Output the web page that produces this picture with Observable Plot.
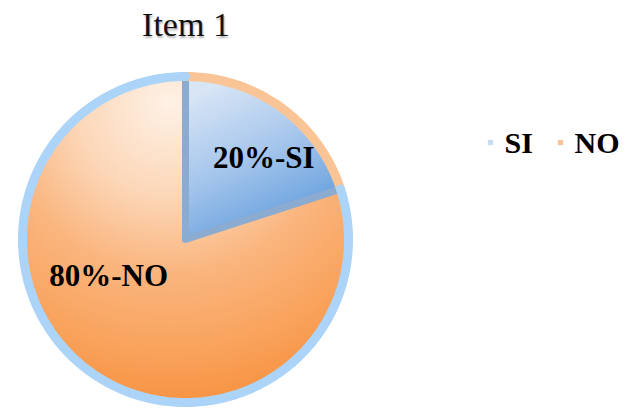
<!DOCTYPE html>
<html><head><meta charset="utf-8">
<script src="https://cdn.jsdelivr.net/npm/d3@7"></script>
<script src="https://cdn.jsdelivr.net/npm/@observablehq/plot@0.6"></script>
<style>
body{margin:0;background:#fff;}
#title{width:372px;height:50px;line-height:50px;text-align:center;font-family:"Liberation Serif","Times New Roman",serif;font-size:34px;color:#111;text-shadow:1px 2px 2px rgba(0,0,0,0.3);}
#chart svg{display:block;}
</style></head><body>
<div id="title">Item 1</div>
<div id="chart"></div>
<script>
const categories = ["SI", "NO"];
const values = [20, 80];
const labels = ["20%-SI", "80%-NO"];
const sliceFills = ["url(#gSI)", "url(#gNO)"];
const rimColors = ["#f9c596", "#acd4f8"];
const legendColors = ["#c9dcf1", "#f8c39a"];

const W = 625, H = 360, cx = 185, cy = 189, R = 163;
const arcs = d3.pie().sort(null).value(d => d)(values);
const slices = [], rims = [], labelRows = [];
arcs.forEach((a, i) => {
  const n = Math.max(2, Math.ceil((a.endAngle - a.startAngle) / (Math.PI / 180)));
  slices.push({k: categories[i], x: 0, y: 0});
  for (let j = 0; j <= n; j++) {
    const t = a.startAngle + (a.endAngle - a.startAngle) * j / n;
    const p = {k: categories[i], x: Math.sin(t), y: Math.cos(t)};
    slices.push(p); rims.push({...p});
  }
  slices.push({k: categories[i], x: 0, y: 0});
  const m = (a.startAngle + a.endAngle) / 2;
  const r = i === 0 ? 0.65 : 0.5;
  labelRows.push({k: categories[i], label: labels[i], x: r * Math.sin(m), y: r * Math.cos(m)});
});
const labelOffsets = {SI: [16, 4], NO: [-29, -29]};
const legendRows = categories.map((c, i) => ({k: c, x: (490 + i * 70 - cx) / R, y: (cy - 92) / R, color: legendColors[i]}));

const marks = [];
categories.slice().reverse().forEach(c => {
  const i = categories.indexOf(c);
  marks.push(Plot.line(slices.filter(d => d.k === c), {
    x: "x", y: "y", fill: sliceFills[i],
    stroke: c === "SI" ? "#8cabd0" : "none", strokeWidth: 7, strokeLinejoin: "round", curve: "linear"
  }));
});
categories.forEach((c, i) => {
  marks.push(Plot.line(rims.filter(d => d.k === c), {x: "x", y: "y", stroke: rimColors[i], strokeWidth: 9, fill: "none"}));
});
labelRows.forEach(d => {
  marks.push(Plot.text([d], {x: "x", y: "y", text: "label", dx: labelOffsets[d.k][0], dy: labelOffsets[d.k][1],
    fontSize: 31, fontWeight: "bold", fontFamily: "Liberation Serif, Times New Roman, serif", fill: "#000", textAnchor: "middle", lineAnchor: "middle"}));
});
marks.push(Plot.dot(legendRows, {x: "x", y: "y", symbol: "square", r: 3, fill: "color", stroke: null}));
marks.push(Plot.text(legendRows, {x: "x", y: "y", text: "k", dx: 14, dy: 1, textAnchor: "start", lineAnchor: "middle",
  fontSize: 30, fontWeight: "bold", fontFamily: "Liberation Serif, Times New Roman, serif", fill: "#000"}));

const svg = Plot.plot({
  width: W, height: H, margin: 0,
  x: {domain: [-1, 1], range: [cx - R, cx + R], axis: null},
  y: {domain: [-1, 1], range: [cy + R, cy - R], axis: null},
  color: {type: "identity"},
  style: {background: "transparent", overflow: "visible"},
  marks
});
d3.select(svg).insert("defs", ":first-child").html(`
  <radialGradient id="gNO" cx="0.45" cy="0.08" r="0.95" fx="0.45" fy="0.08">
    <stop offset="0" stop-color="#fef1e6"/>
    <stop offset="0.3" stop-color="#fcd7b8"/>
    <stop offset="0.55" stop-color="#fab57e"/>
    <stop offset="0.8" stop-color="#f9a35d"/>
    <stop offset="1" stop-color="#f7913e"/>
  </radialGradient>
  <linearGradient id="gSI" x1="0.3" y1="0" x2="0.75" y2="1">
    <stop offset="0" stop-color="#d8e5f5"/>
    <stop offset="0.45" stop-color="#a6c6ec"/>
    <stop offset="1" stop-color="#5897da"/>
  </linearGradient>`);
document.getElementById("chart").appendChild(svg);
</script>
</body></html>
